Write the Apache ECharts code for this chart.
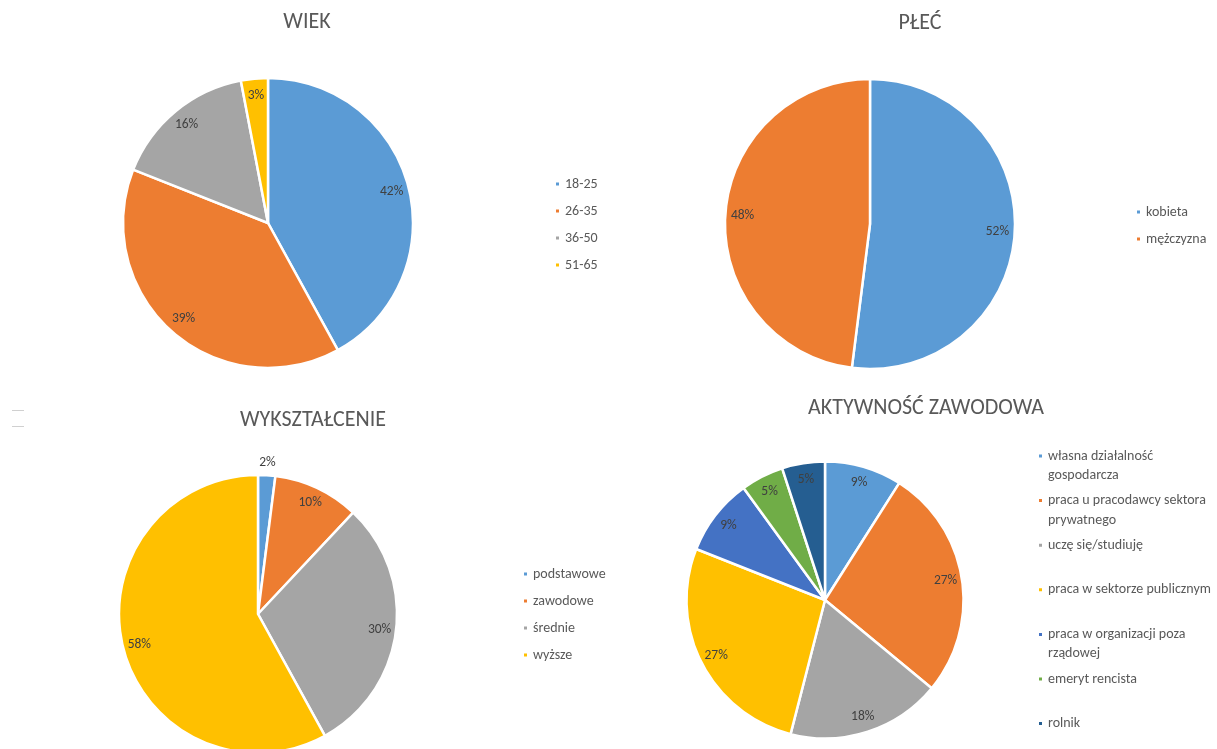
<!DOCTYPE html>
<html>
<head>
<meta charset="utf-8">
<script src="https://cdn.jsdelivr.net/npm/echarts@6/dist/echarts.min.js"></script>
<style>
html,body{margin:0;padding:0;background:#fff;}
#chart{width:1217px;height:749px;}
</style>
</head>
<body>
<div id="chart"></div>
<script>
// ---- data ----
const titles = ['WIEK', 'PŁEĆ', 'WYKSZTAŁCENIE', 'AKTYWNOŚĆ ZAWODOWA'];
const ageCats = ['18-25', '26-35', '36-50', '51-65'];
const ageVals = [42, 39, 16, 3];
const sexCats = ['kobieta', 'mężczyzna'];
const sexVals = [52, 48];
const eduCats = ['podstawowe', 'zawodowe', 'średnie', 'wyższe'];
const eduVals = [2, 10, 30, 58];
const jobCats = ['własna działalność\ngospodarcza', 'praca u pracodawcy sektora\nprywatnego', 'uczę się/studiuję',
  'praca w sektorze publicznym', 'praca w organizacji poza\nrządowej', 'emeryt rencista', 'rolnik'];
const jobVals = [9, 27, 18, 27, 9, 5, 5];

const palette = ['#5B9BD5', '#ED7D31', '#A5A5A5', '#FFC000', '#4472C4', '#70AD47', '#255E91'];
const FONT = 'Carlito, "Noto Sans", sans-serif';
const TXT = '#595959';
const LBL = '#404040';
const LBL_SIZE = 13.5;

function pieSeries(cats, vals, center, r, outsideIdx) {
  const main = {
    type: 'pie', center: center, radius: r, startAngle: 90, clockwise: true,
    animation: false, silent: true,
    data: cats.map((n, i) => ({ name: n, value: vals[i], itemStyle: { color: palette[i] } })),
    itemStyle: { borderColor: '#ffffff', borderWidth: 2.5 },
    label: { show: false }, labelLine: { show: false },
    emphasis: { disabled: true }
  };
  const labelBase = { position: 'inside', formatter: '{c}%', color: LBL, fontSize: LBL_SIZE, fontFamily: FONT };
  const overlay = {
    type: 'pie', center: center, radius: [r * 0.72, r], startAngle: 90, clockwise: true,
    animation: false, silent: true, z: 5, avoidLabelOverlap: false,
    data: cats.map((n, i) => ({ name: n, value: vals[i], label: { show: i !== outsideIdx } })),
    itemStyle: { color: 'rgba(0,0,0,0)', borderWidth: 0 },
    label: labelBase,
    labelLine: { show: false },
    emphasis: { disabled: true }
  };
  const out = [main, overlay];
  if (outsideIdx !== undefined) {
    out.push({
      type: 'pie', center: center, radius: [r, r * 1.14], startAngle: 90, clockwise: true,
      animation: false, silent: true, z: 5, avoidLabelOverlap: false,
      data: cats.map((n, i) => ({ name: n, value: vals[i], label: { show: i === outsideIdx } })),
      itemStyle: { color: 'rgba(0,0,0,0)', borderWidth: 0 },
      label: labelBase,
      labelLine: { show: false },
      emphasis: { disabled: true }
    });
  }
  return out;
}

const series = [].concat(
  pieSeries(ageCats, ageVals, [268, 223], 145),
  pieSeries(sexCats, sexVals, [870, 224], 145),
  pieSeries(eduCats, eduVals, [258, 614], 139, 0),
  pieSeries(jobCats, jobVals, [825, 600], 138.5)
);

const titlePos = [[307, 11], [920, 12], [313, 409], [926, 397]];
const title = titles.map((t, i) => ({
  text: t, left: titlePos[i][0], top: titlePos[i][1], textAlign: 'center', padding: 0,
  textStyle: { fontSize: 22, fontWeight: 'normal', color: TXT, fontFamily: FONT }
}));

const legendBase = {
  orient: 'vertical', icon: 'rect', itemWidth: 5, itemHeight: 5, itemGap: 11, padding: 0,
  selectedMode: false,
  textStyle: { fontSize: 14, color: TXT, fontFamily: FONT, lineHeight: 16 }
};
const legend = [
  Object.assign({}, legendBase, { data: ageCats, left: 554, top: 176 }),
  Object.assign({}, legendBase, { data: sexCats, left: 1135, top: 204 }),
  Object.assign({}, legendBase, { data: eduCats, left: 522, top: 566 })
];
const jobLH = 19.5;
jobCats.forEach((name, i) => {
  const twoLines = name.indexOf('\n') >= 0;
  const firstLineY = 456 + i * 44.6;
  legend.push(Object.assign({}, legendBase, {
    data: [name], left: 1037,
    top: twoLines ? firstLineY - jobLH * 1.5 : firstLineY - jobLH / 2,
    formatter: n => (twoLines ? '\n' + n : n),
    textStyle: { fontSize: 14, color: TXT, fontFamily: FONT, lineHeight: jobLH }
  }));
});

const chart = echarts.init(document.getElementById('chart'), null, { renderer: 'canvas' });
chart.setOption({
  backgroundColor: '#ffffff',
  animation: false,
  title: title,
  legend: legend,
  series: series,
  graphic: [
    { type: 'line', shape: { x1: 12, y1: 410.5, x2: 24, y2: 410.5 }, style: { stroke: '#d0d0d0', lineWidth: 1 }, silent: true },
    { type: 'line', shape: { x1: 12, y1: 426.5, x2: 24, y2: 426.5 }, style: { stroke: '#d0d0d0', lineWidth: 1 }, silent: true }
  ]
});
</script>
</body>
</html>
